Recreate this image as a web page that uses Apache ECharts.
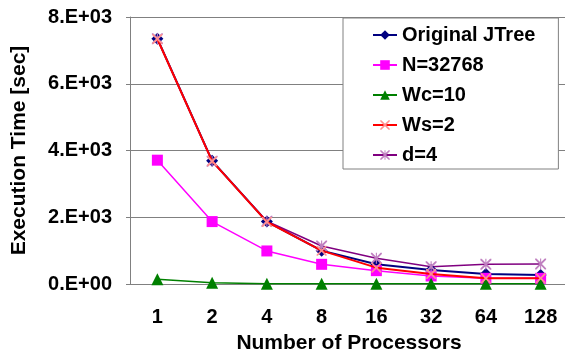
<!DOCTYPE html>
<html>
<head>
<meta charset="utf-8">
<script src="https://cdn.jsdelivr.net/npm/echarts@6/dist/echarts.min.js"></script>
<style>html,body{margin:0;padding:0;background:#fff}#c{width:565px;height:352px}</style>
</head>
<body>
<div id="c"></div>
<script>
const categories = ['1','2','4','8','16','32','64','128'];
const yTickLabels = ['0.E+00','2.E+03','4.E+03','6.E+03','8.E+03'];
const seriesNames = ['Original JTree','N=32768','Wc=10','Ws=2','d=4'];
const originalJTree = [7350, 3690, 1870, 1000, 590, 420, 300, 270];
const n32768 = [3710, 1870, 990, 590, 400, 240, 170, 170];
const wc10 = [140, 40, 10, 5, 5, 5, 5, 5];
const ws2 = [7340, 3680, 1860, 1000, 490, 300, 170, 170];
const d4 = [7350, 3680, 1880, 1140, 770, 520, 590, 600];

const FONT = '"Liberation Sans", Arial, sans-serif';
const xPath = 'path://M0,0L1.2,0L5,3.8L8.8,0L10,0L10,1.2L6.2,5L10,8.8L10,10L8.8,10L5,6.2L1.2,10L0,10L0,8.8L3.8,5L0,1.2Z';
const starPath = 'path://M0,0L1.2,0L4.5,3.3L4.5,0L5.5,0L5.5,3.3L8.8,0L10,0L10,1.2L6.2,5L10,8.8L10,10L8.8,10L5.5,6.7L5.5,10L4.5,10L4.5,6.7L1.2,10L0,10L0,8.8L3.8,5L0,1.2Z';

function mk(name, data, color, symbol, size, symColor, lw, z) {
  return {
    name, type: 'line', data, symbol, symbolSize: size, z: z,
    lineStyle: { color, width: lw },
    itemStyle: { color: symColor, borderWidth: 0 },
    emphasis: { disabled: true },
    animation: false
  };
}

const chart = echarts.init(document.getElementById('c'), null, { renderer: 'canvas' });
chart.setOption({
  backgroundColor: '#fff',
  animation: false,
  grid: { left: 130, top: 17, width: 438, height: 267, outerBoundsMode: 'none', containLabel: false },
  legend: {
    orient: 'vertical', left: 343, top: 18,
    padding: [7, 23, 4, 29],
    itemWidth: 24, itemHeight: 12, itemGap: 10,
    backgroundColor: '#fff', borderColor: '#808080', borderWidth: 1,
    textStyle: { fontFamily: FONT, fontWeight: 'bold', fontSize: 20, color: '#000', lineHeight: 20 },
    data: seriesNames
  },
  xAxis: {
    type: 'category', data: categories, boundaryGap: true,
    axisLine: { lineStyle: { color: '#808080', width: 1 } },
    axisTick: { inside: true, length: 5, lineStyle: { color: '#808080' } },
    axisLabel: { fontFamily: FONT, fontWeight: 'bold', fontSize: 20, color: '#000', margin: 23 },
    name: 'Number of Processors', nameLocation: 'middle', nameGap: 49,
    nameTextStyle: { fontFamily: FONT, fontWeight: 'bold', fontSize: 21, color: '#000' }
  },
  yAxis: {
    type: 'value', min: 0, max: 8000, interval: 2000,
    axisLine: { show: true, lineStyle: { color: '#808080', width: 1 } },
    axisTick: { show: true, length: 4, lineStyle: { color: '#808080' } },
    splitLine: { lineStyle: { color: '#808080', width: 1 } },
    axisLabel: {
      fontFamily: FONT, fontWeight: 'bold', fontSize: 20, color: '#000', margin: 18,
      formatter: (v) => yTickLabels[Math.round(v / 2000)]
    },
    name: 'Execution Time [sec]', nameLocation: 'middle', nameGap: 100,
    nameTextStyle: { fontFamily: FONT, fontWeight: 'bold', fontSize: 21, color: '#000' }
  },
  series: [
    mk(seriesNames[0], originalJTree, '#000080', 'diamond', 12, '#000080', 2, 2),
    mk(seriesNames[1], n32768, '#ff00ff', 'rect', 11, '#ff00ff', 1.5, 2),
    mk(seriesNames[2], wc10, '#008000', 'triangle', 12, '#008000', 1.5, 2),
    mk(seriesNames[3], ws2, '#ff0000', xPath, 10, '#ff9090', 2, 3),
    mk(seriesNames[4], d4, '#800080', starPath, 11, '#c080c0', 1.5, 2)
  ]
});
</script>
</body>
</html>
